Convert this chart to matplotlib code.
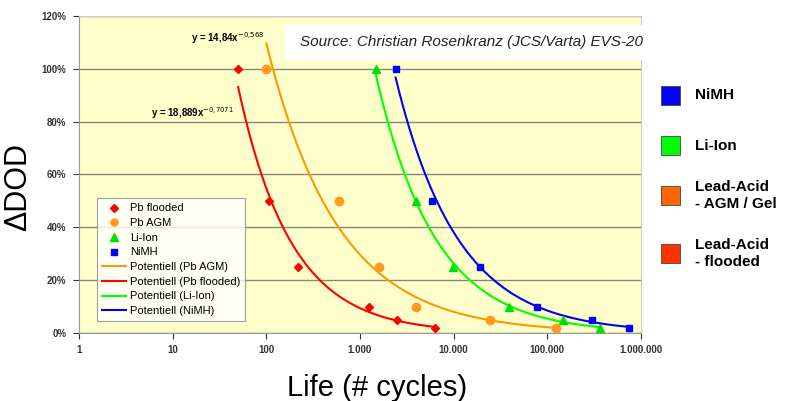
import numpy as np
import matplotlib
matplotlib.use("Agg")
from matplotlib import pyplot as plt
from matplotlib.patches import Rectangle
from matplotlib.ticker import PercentFormatter, FixedLocator, NullLocator

plt.rcParams['font.family'] = ['Liberation Sans', 'DejaVu Sans']

# cycle life vs depth of discharge
pb_flooded_x = [50, 107, 220, 1240, 2470, 6300]
pb_flooded_y = [1.00, 0.50, 0.25, 0.10, 0.05, 0.02]
pb_agm_x = [100, 600, 1600, 3950, 24400, 123000]
pb_agm_y = [1.00, 0.50, 0.25, 0.10, 0.05, 0.02]
li_ion_x = [1480, 3950, 9800, 39000, 147000, 363000]
li_ion_y = [1.00, 0.50, 0.25, 0.10, 0.05, 0.02]
nimh_x = [2400, 5900, 19000, 78000, 297000, 740000]
nimh_y = [1.00, 0.50, 0.25, 0.10, 0.05, 0.02]

x_ticks = [1, 10, 100, 1000, 10000, 100000, 1000000]
x_tick_labels = ["1", "10", "100", "1.000", "10.000", "100.000", "1.000.000"]

# legend boxes on the right
side_labels = ["NiMH", "Li-Ion", "Lead-Acid\n- AGM / Gel", "Lead-Acid\n- flooded"]
side_colors = ["#0000FF", "#00FF00", "#FF6600", "#FF3300"]


def power_fit(xs, ys):
    # straight line in log-log space = power trendline
    b, a = np.polyfit(np.log(xs), np.log(ys), 1)
    xf = np.logspace(np.log10(min(xs)), np.log10(max(xs)), 200)
    return xf, np.exp(a) * xf ** b


fig = plt.figure(figsize=(7.93, 4.01), dpi=100)
ax = fig.add_axes([0.0996, 0.1696, 0.7087, 0.7905])
ax.set_facecolor("#FFFFCC")

series = [
    ("Pb flooded", pb_flooded_x, pb_flooded_y, "#FF0000", "D", 4.5),
    ("Pb AGM", pb_agm_x, pb_agm_y, "#FF9920", "o", 6),
    ("Li-Ion", li_ion_x, li_ion_y, "#00E000", "^", 6),
    ("NiMH", nimh_x, nimh_y, "#0000FF", "s", 5),
]
for name, xs, ys, c, m, ms in series:
    ax.plot(xs, ys, linestyle="none", marker=m, color=c, markersize=ms,
            label=name, zorder=4)

fit_order = [("Pb AGM", pb_agm_x, pb_agm_y, "#FF9900"),
             ("Pb flooded", pb_flooded_x, pb_flooded_y, "#FF0000"),
             ("Li-Ion", li_ion_x, li_ion_y, "#00FF00"),
             ("NiMH", nimh_x, nimh_y, "#0000FF")]
for name, xs, ys, c in fit_order:
    xf, yf = power_fit(xs, ys)
    ax.plot(xf, yf, color=c, linewidth=1.5, label="Potentiell (%s)" % name, zorder=3)

ax.set_xscale("log")
ax.set_xlim(1, 1000000)
ax.set_ylim(0, 1.2)
ax.xaxis.set_major_locator(FixedLocator(x_ticks))
ax.xaxis.set_minor_locator(NullLocator())
ax.set_xticklabels(x_tick_labels)
ax.set_yticks(np.arange(0, 1.21, 0.2))
ax.yaxis.set_major_formatter(PercentFormatter(1.0, decimals=0))
ax.tick_params(labelsize=7, colors="#333333", length=4, width=0.8, pad=5)
for t in ax.get_xticklabels() + ax.get_yticklabels():
    t.set_fontweight("bold")
ax.grid(axis="y", color="#888877", linewidth=1)
ax.set_axisbelow(True)
for s in ax.spines.values():
    s.set_color("#999999")
ax.spines["top"].set_color("#CCCCCC")
ax.spines["right"].set_color("#CCCCCC")

ax.set_ylabel("ΔDOD", fontsize=22)
ax.yaxis.set_label_coords(-0.082, 0.46)
ax.set_xlabel("Life (# cycles)", fontsize=21)
ax.xaxis.set_label_coords(0.53, -0.128)

ax.annotate("y = 14,84x$^{-0{,}568}$", xy=(0.33, 0.93), xycoords="axes fraction",
            fontsize=7, fontweight="bold", ha="right", va="center")
ax.annotate("y = 18,889x$^{-0{,}7071}$", xy=(0.276, 0.695), xycoords="axes fraction",
            fontsize=7, fontweight="bold", ha="right", va="center")

# source note on a white strip
fig.add_artist(Rectangle((285 / 793, 1 - 60 / 401), (642 - 285) / 793, 35 / 401,
                         transform=fig.transFigure, fc="white", ec="none", zorder=5))
fig.text(300 / 793, 1 - 42 / 401, "Source: Christian Rosenkranz (JCS/Varta) EVS-20",
         fontsize=11, style="italic", color="#222222", va="center", ha="left",
         zorder=6)

leg = ax.legend(loc="lower left", bbox_to_anchor=(0.022, 0.02), fontsize=8,
                frameon=True, fancybox=False, edgecolor="#888888",
                handlelength=2.2, labelspacing=0.42, borderpad=0.45,
                handletextpad=0.3, markerscale=0.85)
leg.get_frame().set_linewidth(0.8)

# right-hand colour key
key_y = [0.762, 0.637, 0.512, 0.367]
for lab, c, y in zip(side_labels, side_colors, key_y):
    fig.add_artist(Rectangle((661 / 793, y - 0.024), 19 / 793, 0.048,
                             transform=fig.transFigure, fc=c, ec="#444444", lw=0.6))
    fig.text(695 / 793, y, lab, fontsize=11, fontweight="bold", va="center",
             ha="left", linespacing=1.3)

fig.savefig("out.png", dpi=100)
